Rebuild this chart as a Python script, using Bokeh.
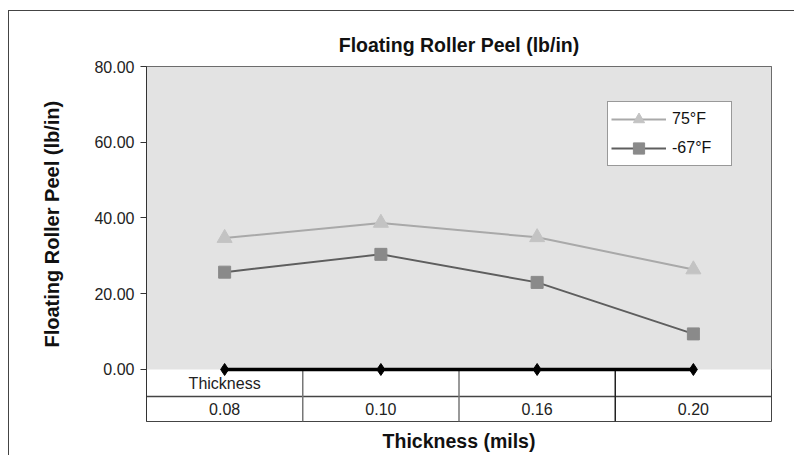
import numpy as np
from bokeh.plotting import figure
from bokeh.models import (Range1d, FixedTicker, NumeralTickFormatter, Legend, LegendItem,
                          Title, ColumnDataSource)
from bokeh.core.properties import value
from bokeh.embed import file_html
from bokeh.resources import INLINE

# ---- data ----
thickness = ["0.08", "0.10", "0.16", "0.20"]
peel_75F = [34.7, 38.7, 34.9, 26.4]
peel_m67F = [25.7, 30.4, 23.0, 9.4]
thickness_series = [0.0, 0.0, 0.0, 0.0]
y_ticks = [0, 20, 40, 60, 80]
row_label = "Thickness"

FONT = "Liberation Sans"
n = len(thickness)
xs = np.arange(n) + 0.5

y_top = 80.0
y_bottom = -13.73      # extra room under zero for the data table
row_sep = -7.13

p = figure(width=786, height=445, output_backend="svg", toolbar_location=None,
           x_range=Range1d(0, n), y_range=Range1d(y_bottom, y_top),
           min_border_left=136, min_border_right=24, min_border_top=55, min_border_bottom=35)
p.styles = {"border-left": "1px solid #444", "border-top": "1px solid #444",
            "margin-top": "10px", "margin-left": "8px"}

p.background_fill_color = "white"
p.border_fill_color = "white"
p.outline_line_color = "#444"
p.outline_line_width = 1
p.xgrid.visible = False
p.ygrid.visible = False

# title
p.title.text = "Floating Roller Peel (lb/in)"
p.title.align = "center"
p.title.text_font = FONT
p.title.text_font_size = "19.5px"
p.title.text_font_style = "bold"
p.title.text_color = "#111"
p.title.standoff = 22

# plot area background (above zero)
p.quad(left=0, right=n, bottom=0, top=y_top, fill_color="#e3e3e3", line_color=None)

# y axis
ya = p.yaxis[0]
ya.ticker = FixedTicker(ticks=y_ticks)
ya.formatter = NumeralTickFormatter(format="0.00")
ya.major_label_text_font = FONT
ya.major_label_text_font_size = "16px"
ya.major_label_text_color = "#222"
ya.axis_line_color = "#333"
ya.major_tick_line_color = "#333"
ya.major_tick_out = 6
ya.major_tick_in = 0
ya.minor_tick_line_color = None
ya.major_label_standoff = 6

# x axis (title only)
xa = p.xaxis[0]
xa.ticker = FixedTicker(ticks=[])
xa.axis_line_color = None
xa.major_tick_line_color = None
xa.minor_tick_line_color = None
xa.major_label_text_font_size = "0px"
xa.axis_label = "Thickness (mils)"
xa.axis_label_text_font = FONT
xa.axis_label_text_font_size = "19.5px"
xa.axis_label_text_font_style = "bold"
xa.axis_label_text_color = "#111"
xa.axis_label_standoff = 8

# y axis title (centred on the plot area above zero)
ytitle = Title(text="Floating Roller Peel (lb/in)", align="left", offset=74, standoff=58,
               text_font=FONT, text_font_size="20px", text_font_style="bold", text_color="#111")
p.add_layout(ytitle, "left")

# data table under the chart
p.segment(x0=[0], y0=[row_sep], x1=[n], y1=[row_sep], line_color="#444", line_width=1.5)
p.segment(x0=[1, 2], y0=[0, 0], x1=[1, 2], y1=[y_bottom, y_bottom], line_color="#777", line_width=1.5)
p.segment(x0=[3], y0=[0], x1=[3], y1=[y_bottom], line_color="#222", line_width=1.5)
p.text(x=[xs[0]], y=[row_sep / 2], text=[row_label], text_align="center", text_baseline="middle",
       text_font=value(FONT), text_font_size="16px", text_color="#222")
p.text(x=xs, y=[(row_sep + y_bottom) / 2] * n, text=thickness, text_align="center",
       text_baseline="middle", text_font=value(FONT), text_font_size="16px", text_color="#222")

# series
src = ColumnDataSource(dict(x=xs, a=peel_75F, b=peel_m67F, t=thickness_series))
p.line("x", "t", source=src, line_color="black", line_width=3.5)
p.scatter("x", "t", source=src, marker="diamond", size=12, fill_color="black", line_color="black")

l1 = p.line("x", "a", source=src, line_color="#a9a9a9", line_width=2)
m1 = p.scatter("x", "a", source=src, marker="triangle", size=15, fill_color="#c3c3c3", line_color="#c3c3c3")
l2 = p.line("x", "b", source=src, line_color="#5e5e5e", line_width=2)
m2 = p.scatter("x", "b", source=src, marker="square", size=12, fill_color="#8a8a8a", line_color="#8a8a8a")

legend = Legend(items=[LegendItem(label="75°F", renderers=[l1, m1]),
                       LegendItem(label="-67°F", renderers=[l2, m2])],
                location=(461, 255), margin=0, padding=3, spacing=1,
                glyph_width=55, glyph_height=28, label_height=28, label_width=56, label_standoff=6,
                label_text_font=FONT, label_text_font_size="16px", label_text_color="#111",
                border_line_color="#333", border_line_width=1.5, background_fill_color="white",
                background_fill_alpha=1)
p.add_layout(legend, "center")

open("out.html", "w").write(file_html(p, INLINE))
